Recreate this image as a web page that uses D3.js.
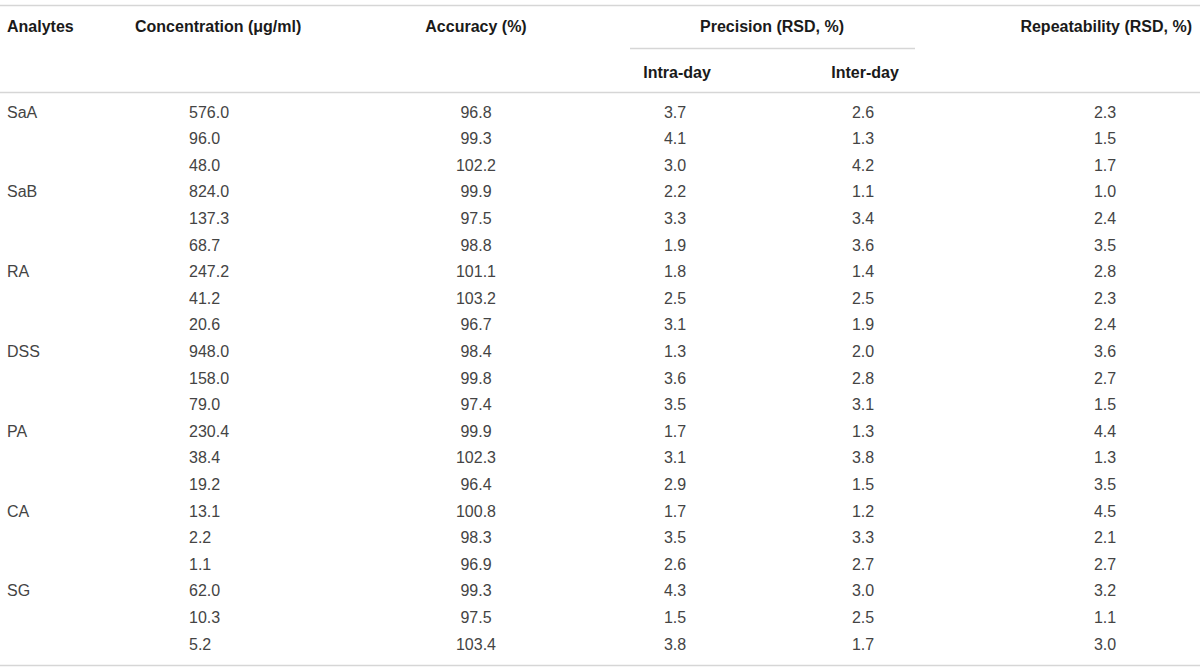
<!DOCTYPE html>
<html>
<head>
<meta charset="utf-8">
<script src="https://cdn.jsdelivr.net/npm/d3@7"></script>
<style>
  body { margin: 0; background: #fff; }
  text { font-family: "Liberation Sans", Arial, sans-serif; }
</style>
</head>
<body>
<div id="chart"></div>
<script>
var analytes = ['SaA', 'SaB', 'RA', 'DSS', 'PA', 'CA', 'SG']
var concentration = ['576.0', '96.0', '48.0', '824.0', '137.3', '68.7', '247.2', '41.2', '20.6',
  '948.0', '158.0', '79.0', '230.4', '38.4', '19.2', '13.1', '2.2', '1.1', '62.0', '10.3', '5.2']
var accuracy = ['96.8', '99.3', '102.2', '99.9', '97.5', '98.8', '101.1', '103.2', '96.7',
  '98.4', '99.8', '97.4', '99.9', '102.3', '96.4', '100.8', '98.3', '96.9', '99.3', '97.5', '103.4']
var intraDay = ['3.7', '4.1', '3.0', '2.2', '3.3', '1.9', '1.8', '2.5', '3.1',
  '1.3', '3.6', '3.5', '1.7', '3.1', '2.9', '1.7', '3.5', '2.6', '4.3', '1.5', '3.8']
var interDay = ['2.6', '1.3', '4.2', '1.1', '3.4', '3.6', '1.4', '2.5', '1.9',
  '2.0', '2.8', '3.1', '1.3', '3.8', '1.5', '1.2', '3.3', '2.7', '3.0', '2.5', '1.7']
var repeatability = ['2.3', '1.5', '1.7', '1.0', '2.4', '3.5', '2.8', '2.3', '2.4',
  '3.6', '2.7', '1.5', '4.4', '1.3', '3.5', '4.5', '2.1', '2.7', '3.2', '1.1', '3.0']

var width = 1200
var height = 672

var svg = d3.select('#chart')
  .append('svg')
  .attr('width', width)
  .attr('height', height)

// one row per concentration level, grouped three per analyte
var rows = concentration.map(function (c, i) {
  return {
    analyte: i % 3 === 0 ? analytes[i / 3] : '',
    conc: c,
    acc: accuracy[i],
    intra: intraDay[i],
    inter: interDay[i],
    rep: repeatability[i]
  }
})

var yScale = d3.scaleBand()
  .domain(d3.range(rows.length))
  .range([98.7, 657.3])

var lineColor = '#d6d6d6'

// rules
var rules = [
  { x1: 0, x2: width, y: 5.5 },
  { x1: 630, x2: 915, y: 48.5 },
  { x1: 0, x2: width, y: 92.5 },
  { x1: 0, x2: width, y: 665.5 }
]
svg.selectAll('.rule')
  .data(rules)
  .enter()
  .append('line')
  .attr('class', 'rule')
  .attr('x1', function (d) { return d.x1 })
  .attr('x2', function (d) { return d.x2 })
  .attr('y1', function (d) { return d.y })
  .attr('y2', function (d) { return d.y })
  .attr('stroke', lineColor)
  .attr('stroke-width', 1.5)

// headers
var headers = [
  { t: 'Analytes', x: 7, y: 26, a: 'start' },
  { t: 'Concentration (\u03bcg/ml)', x: 135, y: 26, a: 'start' },
  { t: 'Accuracy (%)', x: 476, y: 26, a: 'middle' },
  { t: 'Precision (RSD, %)', x: 772, y: 26, a: 'middle' },
  { t: 'Repeatability (RSD, %)', x: 1192, y: 26, a: 'end' },
  { t: 'Intra-day', x: 677, y: 72, a: 'middle' },
  { t: 'Inter-day', x: 865, y: 72, a: 'middle' }
]

svg.selectAll('.header')
  .data(headers)
  .enter()
  .append('text')
  .attr('class', 'header')
  .attr('x', function (d) { return d.x })
  .attr('y', function (d) { return d.y })
  .attr('dy', '0.35em')
  .attr('text-anchor', function (d) { return d.a })
  .attr('font-size', 16)
  .attr('font-weight', 'bold')
  .attr('fill', '#1a1a1a')
  .text(function (d) { return d.t })

var columns = [
  { key: 'analyte', x: 7, a: 'start' },
  { key: 'conc', x: 189, a: 'start' },
  { key: 'acc', x: 476, a: 'middle' },
  { key: 'intra', x: 675, a: 'middle' },
  { key: 'inter', x: 863, a: 'middle' },
  { key: 'rep', x: 1105, a: 'middle' }
]

var rowG = svg.selectAll('.row')
  .data(rows)
  .enter()
  .append('g')
  .attr('class', 'row')
  .attr('transform', function (d, i) {
    return 'translate(0,' + (yScale(i) + yScale.bandwidth() / 2) + ')'
  })

columns.forEach(function (col) {
  rowG.append('text')
    .attr('x', col.x)
    .attr('dy', '0.35em')
    .attr('text-anchor', col.a)
    .attr('font-size', 16)
    .attr('fill', '#444')
    .text(function (d) { return d[col.key] })
})
</script>
</body>
</html>
